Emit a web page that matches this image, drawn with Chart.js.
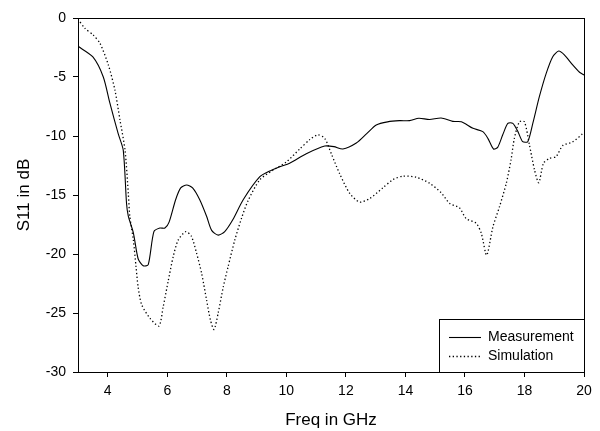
<!DOCTYPE html>
<html>
<head>
<meta charset="utf-8">
<script src="https://cdn.jsdelivr.net/npm/chart.js@4"></script>
<style>
  html, body { margin: 0; padding: 0; background: #fff; }
  #wrap { width: 600px; height: 431px; }
</style>
</head>
<body>
<div id="wrap"><canvas id="c" width="600" height="431"></canvas></div>
<script>
// Measured return loss
const measFreq = [3.0, 3.5, 3.85, 4.07, 4.35, 4.52, 4.63, 4.69, 4.86, 5.02, 5.19, 5.36, 5.55, 5.75, 5.92, 6.06, 6.28, 6.45, 6.65, 6.85, 7.09, 7.32, 7.49, 7.71, 7.93, 8.2, 8.55, 9.11, 9.5, 9.78, 10.11, 10.67, 11.29, 11.6, 11.9, 12.35, 12.7, 13.02, 13.4, 13.8, 14.14, 14.45, 14.81, 15.2, 15.59, 15.88, 16.27, 16.6, 16.77, 16.96, 17.1, 17.27, 17.44, 17.61, 17.78, 17.94, 18.11, 18.28, 18.5, 18.73, 18.95, 19.15, 19.34, 19.62, 19.85, 20.0];
const measDb = [-2.4, -3.3, -5.0, -7.2, -9.8, -11.2, -15.7, -16.8, -18.2, -20.4, -21.0, -20.9, -18.1, -17.8, -17.8, -17.3, -15.4, -14.4, -14.15, -14.4, -15.4, -16.8, -18.0, -18.4, -18.1, -17.1, -15.4, -13.45, -12.9, -12.6, -12.3, -11.5, -10.85, -10.9, -11.1, -10.6, -9.8, -9.07, -8.8, -8.7, -8.7, -8.5, -8.6, -8.47, -8.76, -8.79, -9.35, -9.63, -10.2, -11.1, -10.96, -9.9, -8.93, -8.93, -9.63, -10.48, -10.48, -8.93, -6.67, -4.69, -3.28, -2.8, -3.13, -3.98, -4.6, -4.83];

// Simulated return loss
const simFreq = [3.0, 3.23, 3.51, 3.74, 4.02, 4.24, 4.41, 4.58, 4.69, 4.74, 4.86, 4.95, 5.02, 5.14, 5.42, 5.72, 5.86, 6.03, 6.2, 6.37, 6.62, 6.81, 6.98, 7.15, 7.32, 7.45, 7.57, 7.71, 7.88, 8.04, 8.27, 8.49, 8.71, 9.11, 9.55, 10.0, 10.45, 10.79, 11.06, 11.29, 11.51, 11.79, 12.13, 12.46, 12.8, 13.24, 13.58, 13.92, 14.37, 14.81, 15.2, 15.48, 15.82, 16.04, 16.38, 16.55, 16.73, 16.94, 17.16, 17.39, 17.55, 17.66, 17.83, 18.0, 18.17, 18.34, 18.48, 18.64, 18.84, 19.06, 19.29, 19.62, 19.96];
const simDb = [-0.1, -0.87, -1.44, -2.15, -3.98, -6.1, -8.64, -11.2, -14.86, -16.8, -18.8, -21.1, -22.8, -24.3, -25.45, -26.1, -24.5, -22.3, -20.2, -18.8, -18.1, -18.5, -19.9, -21.6, -23.9, -25.6, -26.4, -25.0, -22.8, -21.1, -18.8, -17.0, -15.5, -13.7, -12.9, -12.2, -11.1, -10.3, -9.9, -10.2, -11.5, -13.2, -14.86, -15.6, -15.3, -14.4, -13.7, -13.4, -13.5, -14.0, -14.8, -15.7, -16.1, -17.0, -17.4, -18.25, -20.1, -17.7, -16.0, -14.0, -12.0, -10.2, -8.8, -8.8, -10.8, -12.9, -13.96, -12.3, -11.9, -11.75, -10.8, -10.5, -9.8];

const xTicks = [4, 6, 8, 10, 12, 14, 16, 18, 20];
const yTicks = [0, -5, -10, -15, -20, -25, -30];
const seriesNames = ['Measurement', 'Simulation'];

const FONT = 'Liberation Sans, Arial, Helvetica, sans-serif';

function toPoints(xs, ys) {
  return xs.map((x, i) => ({ x: x, y: ys[i] }));
}

// Box around the plot area plus an inset legend in the lower right corner
const frameAndLegend = {
  id: 'frameAndLegend',
  afterDatasetsDraw(chart) {
    const { ctx, chartArea: a } = chart;
    ctx.save();
    ctx.strokeStyle = '#000';
    ctx.lineWidth = 1;
    ctx.strokeRect(Math.round(a.left) + 0.5, Math.round(a.top) + 0.5,
                   Math.round(a.right - a.left), Math.round(a.bottom - a.top));

    const bw = 145, bh = 53;
    const bx = Math.round(a.right) - bw, by = Math.round(a.bottom) - bh;
    ctx.fillStyle = '#fff';
    ctx.fillRect(bx, by, bw, bh);
    ctx.strokeRect(bx + 0.5, by + 0.5, bw, bh);

    ctx.font = '14px ' + FONT;
    ctx.textBaseline = 'middle';
    ctx.fillStyle = '#000';
    chart.data.datasets.forEach((ds, i) => {
      const ly = by + 18 + i * 19;
      ctx.beginPath();
      ctx.strokeStyle = '#000';
      ctx.lineWidth = ds.borderWidth;
      ctx.setLineDash(ds.borderDash || []);
      ctx.moveTo(bx + 10, ly + 0.5);
      ctx.lineTo(bx + 42, ly + 0.5);
      ctx.stroke();
      ctx.setLineDash([]);
      ctx.fillText(ds.label, bx + 49, ly);
    });
    ctx.restore();
  }
};

new Chart(document.getElementById('c'), {
  type: 'line',
  data: {
    datasets: [
      {
        label: seriesNames[0],
        data: toPoints(measFreq, measDb),
        borderColor: '#000',
        borderWidth: 1.1,
        pointRadius: 0,
        tension: 0.25,
        fill: false
      },
      {
        label: seriesNames[1],
        data: toPoints(simFreq, simDb),
        borderColor: '#000',
        borderWidth: 1.3,
        borderDash: [1.3, 2.4],
        pointRadius: 0,
        tension: 0.25,
        fill: false
      }
    ]
  },
  options: {
    responsive: false,
    animation: false,
    layout: { padding: { left: 0, right: 16, top: 18, bottom: 0 } },
    plugins: { legend: { display: false }, tooltip: { enabled: false } },
    scales: {
      x: {
        type: 'linear',
        min: 3,
        max: 20,
        afterBuildTicks: (s) => { s.ticks = xTicks.map(v => ({ value: v })); },
        afterFit: (s) => { s.height = 59; },
        grid: { drawOnChartArea: false, drawTicks: true, tickLength: 5, color: '#000' },
        border: { display: true, color: '#000', width: 1 },
        ticks: { color: '#000', font: { family: FONT, size: 14 }, padding: 6, maxRotation: 0 },
        title: { display: true, text: 'Freq in GHz', color: '#000', font: { family: FONT, size: 17 }, padding: { top: 2, bottom: 0 } }
      },
      y: {
        min: -30,
        max: 0,
        afterBuildTicks: (s) => { s.ticks = yTicks.map(v => ({ value: v })); },
        afterFit: (s) => { s.width = 78; },
        grid: { drawOnChartArea: false, drawTicks: true, tickLength: 5, color: '#000' },
        border: { display: true, color: '#000', width: 1 },
        ticks: { color: '#000', font: { family: FONT, size: 14 }, padding: 7 },
        title: { display: true, text: 'S11 in dB', color: '#000', font: { family: FONT, size: 17 }, padding: { top: 14, bottom: 0 } }
      }
    }
  },
  plugins: [frameAndLegend]
});
</script>
</body>
</html>
